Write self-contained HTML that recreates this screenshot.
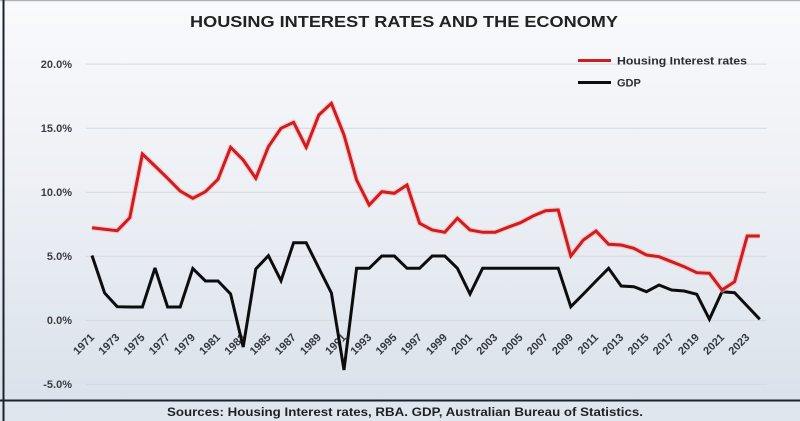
<!DOCTYPE html>
<html><head><meta charset="utf-8"><style>
html,body{margin:0;padding:0;width:800px;height:421px;overflow:hidden;background:#eef1f5;}
svg{display:block;}
text{font-family:"Liberation Sans",Arial,sans-serif;font-weight:bold;}
</style></head><body>
<svg width="800" height="421" viewBox="0 0 800 421" xmlns="http://www.w3.org/2000/svg">
<defs>
<linearGradient id="bg" x1="0" y1="0" x2="0" y2="1">
<stop offset="0" stop-color="#f9fafc"/>
<stop offset="0.5" stop-color="#eceff4"/>
<stop offset="1" stop-color="#dbe2eb"/>
</linearGradient>
</defs>
<rect x="0" y="0" width="800" height="400" fill="url(#bg)"/>
<rect x="0" y="400" width="800" height="21" fill="#e0e6ee"/>
<line x1="0" y1="0.5" x2="800" y2="0.5" stroke="#b0b3b8" stroke-width="1.5"/>
<line x1="3.5" y1="0" x2="3.5" y2="421" stroke="#1c232e" stroke-width="2"/>
<line x1="0" y1="400.5" x2="800" y2="400.5" stroke="#1c232e" stroke-width="2"/>

<text x="404" y="27" font-size="16" fill="#222" text-anchor="middle" textLength="428" lengthAdjust="spacingAndGlyphs">HOUSING INTEREST RATES AND THE ECONOMY</text>

<g stroke="#d6d9df" stroke-width="1">
<line x1="86" y1="64.1" x2="767" y2="64.1"/>
<line x1="86" y1="128.2" x2="767" y2="128.2"/>
<line x1="86" y1="192.3" x2="767" y2="192.3"/>
<line x1="86" y1="256.3" x2="767" y2="256.3"/>
<line x1="86" y1="320.4" x2="767" y2="320.4"/>
<line x1="86" y1="384.5" x2="767" y2="384.5"/>
</g>

<g font-size="11" fill="#3a3d42" text-anchor="end">
<text x="72" y="68">20.0%</text>
<text x="72" y="132">15.0%</text>
<text x="72" y="196">10.0%</text>
<text x="72" y="260">5.0%</text>
<text x="72" y="324">0.0%</text>
<text x="72" y="388">-5.0%</text>
</g>

<g font-size="11" fill="#34373c" text-anchor="end">
<text transform="translate(95,338) rotate(-45)">1971</text>
<text transform="translate(120.2,338) rotate(-45)">1973</text>
<text transform="translate(145.4,338) rotate(-45)">1975</text>
<text transform="translate(170.6,338) rotate(-45)">1977</text>
<text transform="translate(195.8,338) rotate(-45)">1979</text>
<text transform="translate(221,338) rotate(-45)">1981</text>
<text transform="translate(246.2,338) rotate(-45)">1983</text>
<text transform="translate(271.4,338) rotate(-45)">1985</text>
<text transform="translate(296.6,338) rotate(-45)">1987</text>
<text transform="translate(321.8,338) rotate(-45)">1989</text>
<text transform="translate(347,338) rotate(-45)">1991</text>
<text transform="translate(372.2,338) rotate(-45)">1993</text>
<text transform="translate(397.4,338) rotate(-45)">1995</text>
<text transform="translate(422.6,338) rotate(-45)">1997</text>
<text transform="translate(447.8,338) rotate(-45)">1999</text>
<text transform="translate(473,338) rotate(-45)">2001</text>
<text transform="translate(498.2,338) rotate(-45)">2003</text>
<text transform="translate(523.4,338) rotate(-45)">2005</text>
<text transform="translate(548.6,338) rotate(-45)">2007</text>
<text transform="translate(573.8,338) rotate(-45)">2009</text>
<text transform="translate(599,338) rotate(-45)">2011</text>
<text transform="translate(624.2,338) rotate(-45)">2013</text>
<text transform="translate(649.4,338) rotate(-45)">2015</text>
<text transform="translate(674.6,338) rotate(-45)">2017</text>
<text transform="translate(699.8,338) rotate(-45)">2019</text>
<text transform="translate(725,338) rotate(-45)">2021</text>
<text transform="translate(750.2,338) rotate(-45)">2023</text>
</g>

<!-- GDP -->
<polyline fill="none" stroke="#0d0d0f" stroke-width="3" stroke-linejoin="miter" stroke-miterlimit="3" points="92,255.5 104.6,293 117.2,306.7 129.8,307 142.4,307 155,268 167.6,307 180.2,307 192.8,268.5 205.4,281 218,281 230.6,294 243.2,347 255.8,269 268.4,255.7 281,280.7 293.6,242.7 306.2,242.7 318.8,268 331.4,293 344,370 356.6,268.3 369.2,268.3 381.8,256 394.4,256 407,268.3 419.6,268.3 432.2,256 444.8,256 457.4,268.3 470,294 482.6,268.3 495.2,268.3 507.8,268.3 520.4,268.3 533,268.3 545.6,268.3 558.2,268.3 570.8,306.7 583.4,294 596,281 608.6,268.3 621.2,286 633.8,286.7 646.4,291.7 659,285 671.6,290 684.2,291 696.8,294.3 709.4,319.3 722,291.7 734.6,292.7 747.2,306 759.8,319.3"/>

<!-- Housing interest rates -->
<polyline fill="none" stroke="#f2b4b4" stroke-width="5.5" stroke-linejoin="round" opacity="0.6" points="92,227.7 104.6,229.3 117.2,230.7 129.8,217.7 142.4,154 155,166 167.6,178.3 180.2,191 192.8,198.3 205.4,191.7 218,179.3 230.6,147.3 243.2,160 255.8,178.3 268.4,146.7 281,128.3 293.6,122.3 306.2,147.3 318.8,115 331.4,103.3 344,135 356.6,180 369.2,205 381.8,191.7 394.4,193.3 407,185 419.6,223.3 432.2,230 444.8,232.3 457.4,218.3 470,230 482.6,232.3 495.2,232.3 507.8,227.3 520.4,222.7 533,216 545.6,210.7 558.2,210 570.8,256 583.4,240 596,231 608.6,244.3 621.2,245 633.8,248.3 646.4,255 659,256.7 671.6,261.7 684.2,266.7 696.8,272.7 709.4,273.3 722,290 734.6,281.7 747.2,236 759.8,236"/>
<polyline fill="none" stroke="#d01c1f" stroke-width="3" stroke-linejoin="miter" stroke-miterlimit="3" points="92,227.7 104.6,229.3 117.2,230.7 129.8,217.7 142.4,154 155,166 167.6,178.3 180.2,191 192.8,198.3 205.4,191.7 218,179.3 230.6,147.3 243.2,160 255.8,178.3 268.4,146.7 281,128.3 293.6,122.3 306.2,147.3 318.8,115 331.4,103.3 344,135 356.6,180 369.2,205 381.8,191.7 394.4,193.3 407,185 419.6,223.3 432.2,230 444.8,232.3 457.4,218.3 470,230 482.6,232.3 495.2,232.3 507.8,227.3 520.4,222.7 533,216 545.6,210.7 558.2,210 570.8,256 583.4,240 596,231 608.6,244.3 621.2,245 633.8,248.3 646.4,255 659,256.7 671.6,261.7 684.2,266.7 696.8,272.7 709.4,273.3 722,290 734.6,281.7 747.2,236 759.8,236"/>

<!-- Legend -->
<line x1="578" y1="60.5" x2="611" y2="60.5" stroke="#d01c1f" stroke-width="3"/>
<line x1="578" y1="82.5" x2="611" y2="82.5" stroke="#0d0d0f" stroke-width="3"/>
<text x="617" y="64.5" font-size="11" fill="#2a2c30" textLength="130" lengthAdjust="spacingAndGlyphs">Housing Interest rates</text>
<text x="617" y="86.5" font-size="11" fill="#2a2c30">GDP</text>

<text x="405" y="416" font-size="12" fill="#1e2126" text-anchor="middle" textLength="476" lengthAdjust="spacingAndGlyphs">Sources: Housing Interest rates, RBA. GDP, Australian Bureau of Statistics.</text>
</svg>
</body></html>
